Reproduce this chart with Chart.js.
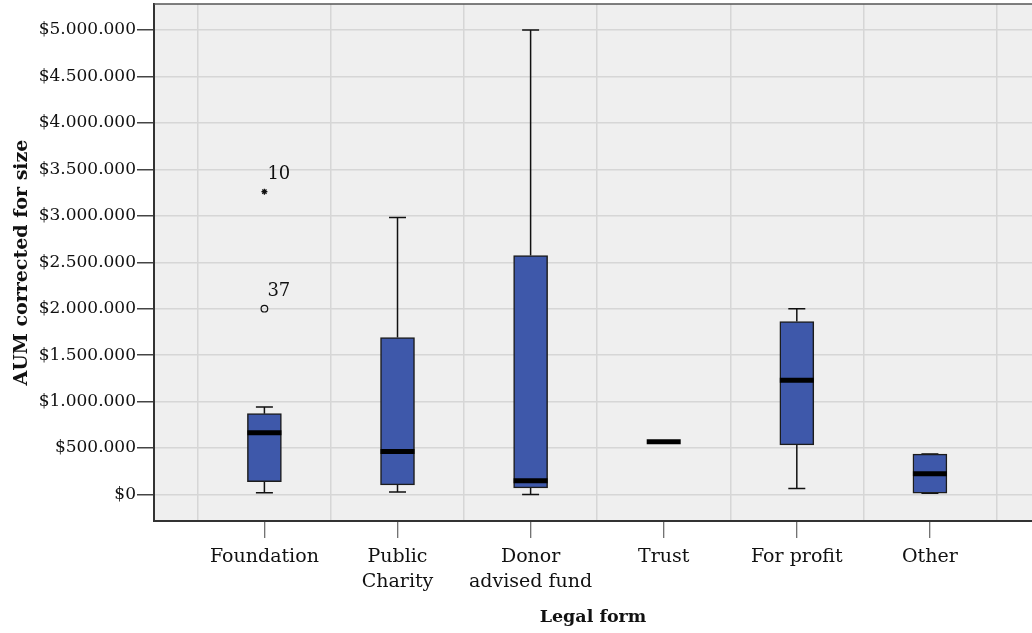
<!DOCTYPE html>
<html>
<head>
<meta charset="utf-8">
<script src="https://cdn.jsdelivr.net/npm/chart.js@4/dist/chart.umd.min.js"></script>
<style>
  html, body { margin: 0; padding: 0; background: #ffffff; overflow: hidden; }
  #wrap { width: 1032px; height: 633px; }
</style>
</head>
<body>
<div id="wrap"><canvas id="c" width="1032" height="633"></canvas></div>
<script>
// AUM corrected for size, by legal form (box-and-whisker summary)
const categories   = ['Foundation', ['Public', 'Charity'], ['Donor', 'advised fund'], 'Trust', 'For profit', 'Other'];
const whiskerLow   = [  19000,   26000,       0, 567000,   65000,  15000];
const quartile1    = [ 138000,  104000,   72000, 567000,  535000,  15000];
const medians      = [ 665000,  463000,  147000, 567000, 1231000, 223000];
const quartile3    = [ 870000, 1690000, 2573000, 567000, 1862000, 435000];
const whiskerHigh  = [ 942000, 2982000, 5000000, 567000, 2000000, 435000];

// outliers (circle) and extreme values (star), with case numbers
const outlierCategory = [0];
const outlierValue    = [2000000];
const outlierCase     = ['37'];
const extremeCategory = [0];
const extremeValue    = [3260000];
const extremeCase     = ['10'];

const yTickValues = [0, 500000, 1000000, 1500000, 2000000, 2500000, 3000000, 3500000, 4000000, 4500000, 5000000];
const yTickLabels = ['$0', '$500.000', '$1.000.000', '$1.500.000', '$2.000.000', '$2.500.000',
                     '$3.000.000', '$3.500.000', '$4.000.000', '$4.500.000', '$5.000.000'];

const FONT = 'DejaVu Serif';
const TEXT = '#111111';
const GRID = '#d6d6d6';
const AXIS = '#333333';
const PLOT_BG = '#efefef';
const BOX_FILL = '#3e58aa';

// background of the plot area and its top border
const plotFrame = {
  id: 'plotFrame',
  beforeDraw(chart) {
    const { ctx, chartArea: a } = chart;
    ctx.save();
    ctx.fillStyle = PLOT_BG;
    ctx.fillRect(a.left, a.top, a.right - a.left, a.bottom - a.top);
    ctx.restore();
  },
  afterDraw(chart) {
    const { ctx, chartArea: a } = chart;
    ctx.save();
    ctx.strokeStyle = '#555555';
    ctx.lineWidth = 1.5;
    ctx.beginPath();
    ctx.moveTo(a.left, a.top);
    ctx.lineTo(a.right, a.top);
    ctx.stroke();
    ctx.restore();
  }
};

// whiskers (under the boxes) and medians (over the boxes)
const boxParts = {
  id: 'boxParts',
  beforeDatasetsDraw(chart) {
    const { ctx, scales: { y } } = chart;
    const meta = chart.getDatasetMeta(0);
    ctx.save();
    ctx.strokeStyle = '#111111';
    ctx.lineWidth = 1.5;
    meta.data.forEach((bar, i) => {
      const { x, width } = bar.getProps(['x', 'width'], true);
      const cap = width / 4;
      const yHi = y.getPixelForValue(whiskerHigh[i]);
      const yQ3 = y.getPixelForValue(quartile3[i]);
      const yLo = y.getPixelForValue(whiskerLow[i]);
      const yQ1 = y.getPixelForValue(quartile1[i]);
      ctx.beginPath();
      ctx.moveTo(x, yQ3); ctx.lineTo(x, yHi);
      ctx.moveTo(x - cap, yHi); ctx.lineTo(x + cap, yHi);
      ctx.moveTo(x, yQ1); ctx.lineTo(x, yLo);
      ctx.moveTo(x - cap, yLo); ctx.lineTo(x + cap, yLo);
      ctx.stroke();
    });
    ctx.restore();
  },
  afterDatasetsDraw(chart) {
    const { ctx, scales: { y } } = chart;
    const meta = chart.getDatasetMeta(0);
    ctx.save();
    ctx.strokeStyle = '#000000';
    ctx.lineWidth = 5;
    ctx.lineCap = 'butt';
    meta.data.forEach((bar, i) => {
      const { x, width } = bar.getProps(['x', 'width'], true);
      const ym = y.getPixelForValue(medians[i]);
      ctx.beginPath();
      ctx.moveTo(x - width / 2, ym);
      ctx.lineTo(x + width / 2, ym);
      ctx.stroke();
    });
    // case numbers beside the outlying points
    ctx.fillStyle = TEXT;
    ctx.font = '18px "' + FONT + '"';
    ctx.textAlign = 'left';
    ctx.textBaseline = 'middle';
    [[1, outlierCase], [2, extremeCase]].forEach(([di, cases]) => {
      chart.getDatasetMeta(di).data.forEach((pt, j) => {
        ctx.fillText(cases[j], pt.x + 3, pt.y - 17);
      });
    });
    ctx.restore();
  }
};

const X_MIN = -0.8295;
const X_MAX = 5.767;
const Y_MIN = -285000;
const Y_MAX = 5280000;

const isCentre = c => !!(c && c.tick && Math.abs(c.tick.value - Math.round(c.tick.value)) < 1e-6);
const isEdge = c => !!(c && c.tick) && !isCentre(c);

new Chart(document.getElementById('c'), {
  type: 'bar',
  data: {
    datasets: [
      {
        type: 'bar',
        data: categories.map((_, i) => ({ x: i, y: [quartile1[i], quartile3[i]] })),
        backgroundColor: BOX_FILL,
        borderColor: '#1c1c1c',
        borderWidth: 1.5,
        borderSkipped: false,
        barThickness: 34,
        order: 2
      },
      {
        type: 'scatter',
        data: outlierCategory.map((c, j) => ({ x: c, y: outlierValue[j] })),
        pointStyle: 'circle',
        radius: 3.3,
        borderColor: '#111111',
        borderWidth: 1.2,
        backgroundColor: 'rgba(0,0,0,0)',
        order: 1
      },
      {
        type: 'scatter',
        data: extremeCategory.map((c, j) => ({ x: c, y: extremeValue[j] })),
        pointStyle: 'star',
        radius: 3,
        borderColor: '#111111',
        borderWidth: 1.3,
        backgroundColor: '#111111',
        order: 1
      }
    ]
  },
  options: {
    responsive: false,
    devicePixelRatio: 1,
    animation: false,
    layout: { autoPadding: false, padding: { top: 4, right: 0, left: 0, bottom: 0 } },
    plugins: { legend: { display: false }, tooltip: { enabled: false } },
    scales: {
      x: {
        type: 'linear',
        position: 'bottom',
        offset: false,
        min: X_MIN,
        max: X_MAX,
        afterBuildTicks(scale) {
          const t = [];
          for (let k = -0.5; k <= categories.length - 0.5 + 1e-9; k += 0.5) t.push({ value: k });
          scale.ticks = t;
        },
        afterFit(scale) {
          scale.height = 112;
          scale.paddingLeft = 0;
          scale.paddingRight = 0;
        },
        grid: {
          offset: false,
          drawOnChartArea: true,
          drawTicks: true,
          tickLength: 17,
          color: c => (isEdge(c) ? GRID : 'rgba(0,0,0,0)'),
          lineWidth: 1.5,
          tickColor: c => (isCentre(c) ? '#444444' : 'rgba(0,0,0,0)'),
          tickWidth: 1
        },
        border: { display: true, color: AXIS, width: 2 },
        ticks: {
          autoSkip: false,
          maxRotation: 0,
          minRotation: 0,
          padding: 7,
          color: TEXT,
          font: { family: FONT, size: 19, lineHeight: 1.3 },
          callback: v => (Math.abs(v - Math.round(v)) < 1e-6 ? categories[Math.round(v)] : '')
        },
        title: {
          display: true,
          text: 'Legal form',
          color: TEXT,
          font: { family: FONT, size: 17.5, weight: 'bold' },
          padding: { top: 0, bottom: 5 }
        }
      },
      y: {
        min: Y_MIN,
        max: Y_MAX,
        afterBuildTicks(scale) {
          scale.ticks = yTickValues.map(v => ({ value: v }));
        },
        afterFit(scale) {
          scale.width = 154;
          scale.paddingTop = 0;
          scale.paddingBottom = 0;
        },
        grid: {
          color: GRID,
          lineWidth: 1.5,
          tickLength: 17,
          tickColor: '#444444',
          tickWidth: 1.5
        },
        border: { display: true, color: AXIS, width: 2 },
        ticks: {
          padding: 1,
          color: TEXT,
          font: { family: FONT, size: 17 },
          callback: (v, i) => yTickLabels[i]
        },
        title: {
          display: true,
          text: 'AUM corrected for size',
          color: TEXT,
          font: { family: FONT, size: 19, weight: 'bold' },
          padding: { top: 11, bottom: 0 }
        }
      }
    }
  },
  plugins: [plotFrame, boxParts]
});
</script>
</body>
</html>
